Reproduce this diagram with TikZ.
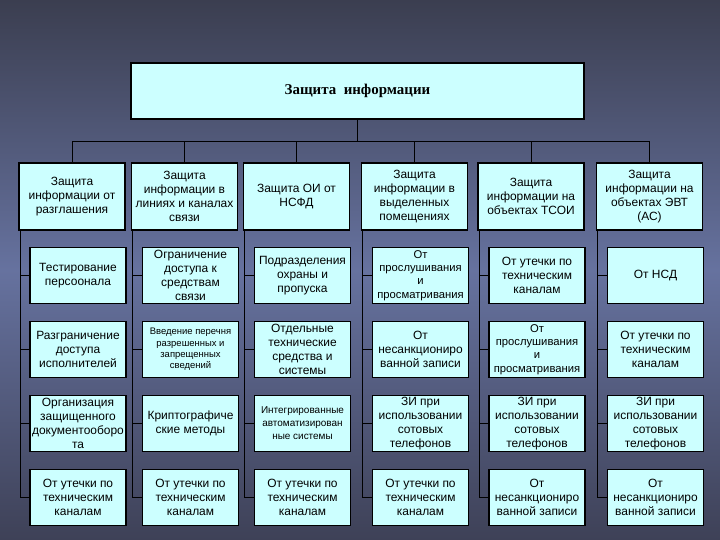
\documentclass[tikz,border=0pt]{standalone}
\usepackage{fontspec}
\setmainfont{Liberation Sans}
\newfontfamily\titlefont{Liberation Serif}
\usetikzlibrary{positioning}
\definecolor{boxcyan}{HTML}{CCFFFF}
\definecolor{bgtop}{HTML}{3B3E50}
\definecolor{bgmid}{HTML}{66729F}
\definecolor{bgbot}{HTML}{3E4157}

\begin{document}
\begin{tikzpicture}[
    x=1bp, y=-1bp,
    node distance=16.5bp,
    every node/.style={font=\fontsize{12}{14}\selectfont},
    topbox/.style={draw, rectangle, line width=1.6pt, fill=boxcyan, align=center, minimum width=453bp, minimum height=56bp, font=\titlefont\bfseries\fontsize{15}{18}\selectfont},
    head/.style={draw, rectangle, line width=1.5pt, fill=boxcyan, align=center, minimum width=106bp, minimum height=67bp, inner sep=1bp},
    item/.style={draw, rectangle, line width=1.5pt, fill=boxcyan, align=center, minimum width=96bp, minimum height=56bp, inner sep=1bp},
    smalltxt/.style={font=\fontsize{9.5}{11.5}\selectfont},
    midtxt/.style={font=\fontsize{11.3}{13.4}\selectfont},
    link/.style={draw=black, line width=1.1pt}
]

% Fond
\fill [top color=bgtop, bottom color=bgbot, middle color=bgmid] (0,0) rectangle (720,540);

% Nodos
\node (top) [topbox] at (357.5,91) {Защита\ \ информации};
\coordinate (bus) at (357.5,141);

\node (h1) [head] at (72,196.5) {Защита\\информации от\\разглашения};
\node (h2) [head] at (184.5,196.5) {Защита\\информации в\\линиях и каналах\\связи};
\node (h3) [head] at (296.5,196.5) {Защита ОИ от\\НСФД};
\node (h4) [head] at (414.5,196.5) {Защита\\информации в\\выделенных\\помещениях};
\node (h5) [head] at (531,196.5) {Защита\\информации на\\объектах ТСОИ};
\node (h6) [head] at (649.5,196.5) {Защита\\информации на\\объектах ЭВТ\\(АС)};

% Column 1
\node (c11) [item] at (78,275.5) {Тестирование\\персоонала};
\node (c12) [item, below=of c11] {Разграничение\\доступа\\исполнителей};
\node (c13) [item, below=of c12] {Организация\\защищенного\\документооборо\\та};
\node (c14) [item, below=of c13] {От утечки по\\техническим\\каналам};

% Column 2
\node (c21) [item] at (190.5,275.5) {Ограничение\\доступа к\\средствам\\связи};
\node (c22) [item, below=of c21, smalltxt] {Введение перечня\\разрешенных и\\запрещенных\\сведений};
\node (c23) [item, below=of c22] {Криптографиче\\ские методы};
\node (c24) [item, below=of c23] {От утечки по\\техническим\\каналам};

% Column 3
\node (c31) [item] at (302.5,275.5) {Подразделения\\охраны и\\пропуска};
\node (c32) [item, below=of c31] {Отдельные\\технические\\средства и\\системы};
\node (c33) [item, below=of c32, font=\fontsize{10}{13}\selectfont] {Интегрированные\\автоматизирован\\ные системы};
\node (c34) [item, below=of c33] {От утечки по\\техническим\\каналам};

% Column 4
\node (c41) [item, midtxt] at (420.5,275.5) {От\\прослушивания\\и\\просматривания};
\node (c42) [item, below=of c41] {От\\несанкциониро\\ванной записи};
\node (c43) [item, below=of c42] {ЗИ при\\использовании\\сотовых\\телефонов};
\node (c44) [item, below=of c43] {От утечки по\\техническим\\каналам};

% Column 5
\node (c51) [item] at (537,275.5) {От утечки по\\техническим\\каналам};
\node (c52) [item, below=of c51, midtxt] {От\\прослушивания\\и\\просматривания};
\node (c53) [item, below=of c52] {ЗИ при\\использовании\\сотовых\\телефонов};
\node (c54) [item, below=of c53] {От\\несанкциониро\\ванной записи};

% Column 6
\node (c61) [item] at (655.5,275.5) {От НСД};
\node (c62) [item, below=of c61] {От утечки по\\техническим\\каналам};
\node (c63) [item, below=of c62] {ЗИ при\\использовании\\сотовых\\телефонов};
\node (c64) [item, below=of c63] {От\\несанкциониро\\ванной записи};

% Flechas
\draw [link, line width=0.9pt] (top) -- (bus);
\draw [link, line width=0.9pt] (bus) -| (h1);
\draw [link, line width=0.9pt] (bus) -| (h2);
\draw [link, line width=0.9pt] (bus) -| (h3);
\draw [link, line width=0.9pt] (bus) -| (h4);
\draw [link, line width=0.9pt] (bus) -| (h5);
\draw [link, line width=0.9pt] (bus) -| (h6);

\draw [link] ([xshift=2bp]h1.south west) |- (c11);
\draw [link] ([xshift=2bp]h1.south west) |- (c12);
\draw [link] ([xshift=2bp]h1.south west) |- (c13);
\draw [link] ([xshift=2bp]h1.south west) |- (c14);

\draw [link] ([xshift=2bp]h2.south west) |- (c21);
\draw [link] ([xshift=2bp]h2.south west) |- (c22);
\draw [link] ([xshift=2bp]h2.south west) |- (c23);
\draw [link] ([xshift=2bp]h2.south west) |- (c24);

\draw [link] ([xshift=2bp]h3.south west) |- (c31);
\draw [link] ([xshift=2bp]h3.south west) |- (c32);
\draw [link] ([xshift=2bp]h3.south west) |- (c33);
\draw [link] ([xshift=2bp]h3.south west) |- (c34);

\draw [link] ([xshift=2bp]h4.south west) |- (c41);
\draw [link] ([xshift=2bp]h4.south west) |- (c42);
\draw [link] ([xshift=2bp]h4.south west) |- (c43);
\draw [link] ([xshift=2bp]h4.south west) |- (c44);

\draw [link] ([xshift=2bp]h5.south west) |- (c51);
\draw [link] ([xshift=2bp]h5.south west) |- (c52);
\draw [link] ([xshift=2bp]h5.south west) |- (c53);
\draw [link] ([xshift=2bp]h5.south west) |- (c54);

\draw [link] ([xshift=2bp]h6.south west) |- (c61);
\draw [link] ([xshift=2bp]h6.south west) |- (c62);
\draw [link] ([xshift=2bp]h6.south west) |- (c63);
\draw [link] ([xshift=2bp]h6.south west) |- (c64);

\end{tikzpicture}
\end{document}
